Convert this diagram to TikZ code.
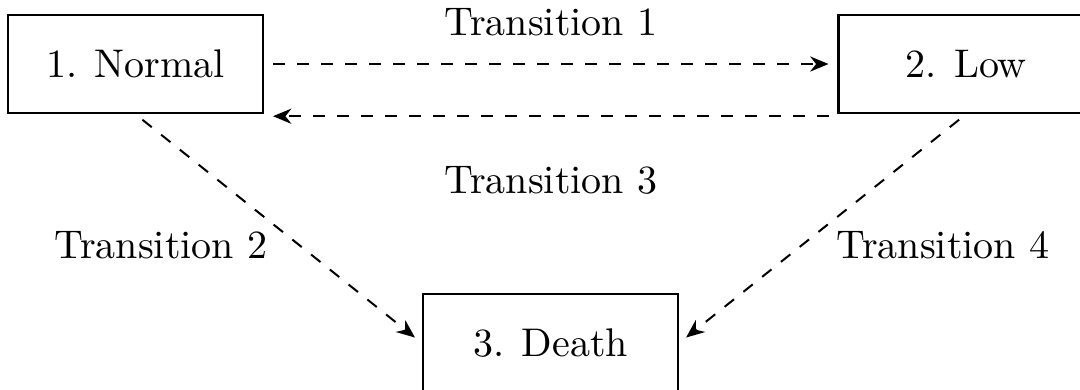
\documentclass[tikz,border=0pt]{standalone}
\usetikzlibrary{arrows.meta}
\begin{document}
\begin{tikzpicture}[x=0.25pt,y=-0.25pt,
  statebox/.style={draw,line width=0.6pt,rectangle,minimum width=63.75pt,minimum height=24.5pt,inner sep=0pt},
  trans/.style={dashed,line width=0.5pt,-{Stealth[length=4.6pt,width=3.8pt]},shorten >=2.2pt,shorten <=2.2pt},
  lab/.style={inner sep=0pt}]
\useasboundingbox (0,0) rectangle (1080,389);
\clip (0,0) rectangle (1080,389);
\node[statebox] (normal) at (135.5,64) {1. Normal};
\node[statebox] (low) at (966,64) {2. Low};
\node[statebox] (death) at (550.5,343) {3. Death};
\draw[trans] (normal.east) -- (low.west);
\draw[trans] ([yshift=-0.5pt]low.south west) -- ([yshift=-0.5pt]normal.south east);
\draw[trans] (normal.south) -- (death.west);
\draw[trans] (low.south) -- (death.east);
\node[lab] (t1) at (551,22) {Transition 1};
\node[lab] (t3) at (551,180) {Transition 3};
\node[lab] (t2) at (161,245) {Transition 2};
\node[lab] (t4) at (943,245) {Transition 4};
\end{tikzpicture}
\end{document}
